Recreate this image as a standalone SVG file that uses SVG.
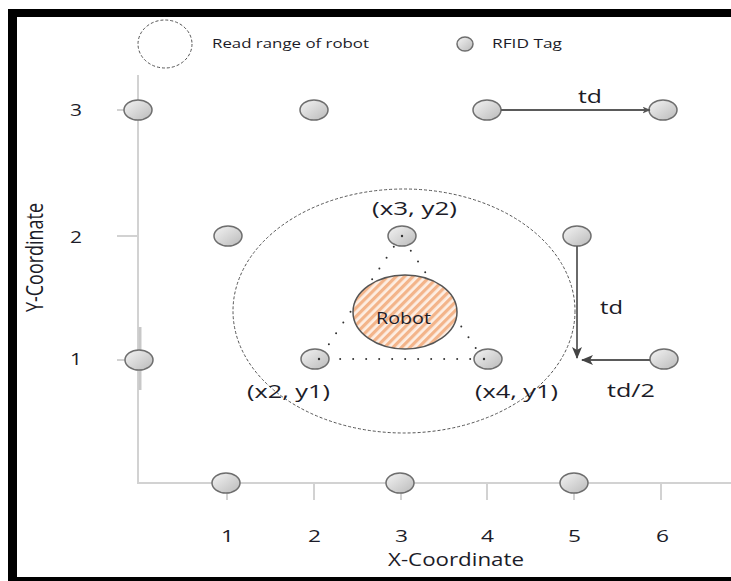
<svg xmlns="http://www.w3.org/2000/svg" width="731" height="581" viewBox="0 0 731 581">
  <style>
    .txt { font-family: "Open Sans", Lato, "Liberation Sans", sans-serif; font-weight: 500; fill: #1c1c28; }
    .axis { stroke: #d2d2d2; stroke-width: 2; fill: none; }
    .tag { fill: url(#tagFill); stroke: #6e6e6e; stroke-width: 1.5; }
    .range { fill: none; stroke: #555; stroke-width: 1; stroke-dasharray: 3 2; }
    .arrow { stroke: #5a5a5a; stroke-width: 1.8; fill: none; }
    .tri { stroke: #333; stroke-width: 2; stroke-linecap: round; fill: none; }
  </style>
  <defs>
    <linearGradient id="tagFill" x1="0" y1="0" x2="1" y2="1">
      <stop offset="0" stop-color="#f4f4f4"/>
      <stop offset="1" stop-color="#bababa"/>
    </linearGradient>
    <pattern id="hatch" patternUnits="userSpaceOnUse" width="6" height="6" patternTransform="rotate(45)">
      <rect width="6" height="6" fill="#fdeee3"/>
      <rect width="3.2" height="6" fill="#f3b48a"/>
    </pattern>
    <marker id="head" viewBox="0 0 12 10" refX="11" refY="5" markerWidth="12" markerHeight="10" markerUnits="userSpaceOnUse" orient="auto">
      <path d="M0,0 L12,5 L0,10 L3,5 z" fill="#444"/>
    </marker>
    <marker id="headSmall" viewBox="0 0 12 10" refX="11" refY="5" markerWidth="8" markerHeight="7" markerUnits="userSpaceOnUse" orient="auto">
      <path d="M0,0 L12,5 L0,10 L3,5 z" fill="#555"/>
    </marker>
  </defs>

  <rect width="731" height="581" fill="#fff"/>
  <!-- frame -->
  <rect x="8" y="9" width="723" height="8" fill="#000"/>
  <rect x="8" y="9" width="9" height="572" fill="#000"/>
  <rect x="8" y="577" width="723" height="4" fill="#000"/>

  <!-- legend -->
  <g id="legend">
    <ellipse class="range" cx="165" cy="44" rx="27" ry="24"/>
    <text class="txt" x="212" y="48" font-size="13" textLength="157" lengthAdjust="spacingAndGlyphs">Read range of robot</text>
    <ellipse class="tag" cx="465" cy="44" rx="8" ry="7"/>
    <text class="txt" x="492" y="48" font-size="13" textLength="70" lengthAdjust="spacingAndGlyphs">RFID Tag</text>
  </g>

  <!-- axes -->
  <g id="axes">
    <path class="axis" d="M138,75 V483 H731"/>
    <path d="M140,327 V390" stroke="#c8c8c8" stroke-width="3"/>
    <path class="axis" d="M117,110 H138 M117,236 H138 M117,360 H138"/>
    <path class="axis" d="M227,483 V500 M314,483 V500 M401,483 V500 M487,483 V500 M574,483 V500 M661,483 V500"/>
    <g class="txt" font-size="17">
      <text x="70" y="116" textLength="12" lengthAdjust="spacingAndGlyphs">3</text>
      <text x="70" y="243" textLength="12" lengthAdjust="spacingAndGlyphs">2</text>
      <text x="70" y="365" textLength="12" lengthAdjust="spacingAndGlyphs">1</text>
      <text x="221" y="542" textLength="13" lengthAdjust="spacingAndGlyphs">1</text>
      <text x="308" y="542" textLength="13" lengthAdjust="spacingAndGlyphs">2</text>
      <text x="395" y="542" textLength="13" lengthAdjust="spacingAndGlyphs">3</text>
      <text x="481" y="542" textLength="13" lengthAdjust="spacingAndGlyphs">4</text>
      <text x="568" y="542" textLength="13" lengthAdjust="spacingAndGlyphs">5</text>
      <text x="656" y="542" textLength="13" lengthAdjust="spacingAndGlyphs">6</text>
      <text x="388" y="566" font-size="18" textLength="136" lengthAdjust="spacingAndGlyphs">X-Coordinate</text>
      <text transform="translate(43,312) scale(1.35,1) rotate(-90)" font-size="17" textLength="109" lengthAdjust="spacingAndGlyphs">Y-Coordinate</text>
    </g>
  </g>

  <!-- read range of robot -->
  <ellipse id="read-range" class="range" cx="404" cy="311" rx="171" ry="122"/>

  <!-- triangulation lines -->
  <g id="triangle">
    <path class="tri" d="M401,236 L319,359 L483,359 Z" stroke-dasharray="0 13"/>
  </g>

  <!-- RFID tags -->
  <g id="tags">
    <g id="tag-0-3"><ellipse class="tag" cx="138" cy="110" rx="14" ry="10"/></g>
    <g id="tag-2-3"><ellipse class="tag" cx="314" cy="110" rx="14" ry="10"/></g>
    <g id="tag-4-3"><ellipse class="tag" cx="487" cy="110" rx="14" ry="10"/></g>
    <g id="tag-6-3"><ellipse class="tag" cx="663" cy="110" rx="14" ry="10"/></g>
    <g id="tag-1-2"><ellipse class="tag" cx="228" cy="236" rx="14" ry="10"/></g>
    <g id="tag-3-2"><ellipse class="tag" cx="402" cy="236" rx="14" ry="10"/><circle cx="402" cy="236" r="1.2" fill="#333"/></g>
    <g id="tag-5-2"><ellipse class="tag" cx="577" cy="236" rx="14" ry="10"/></g>
    <g id="tag-0-1"><ellipse class="tag" cx="139" cy="360" rx="14" ry="10"/></g>
    <g id="tag-2-1"><ellipse class="tag" cx="315" cy="359" rx="14" ry="10"/><circle cx="319" cy="359" r="1.2" fill="#333"/></g>
    <g id="tag-4-1"><ellipse class="tag" cx="488" cy="359" rx="14" ry="10"/><circle cx="484" cy="359" r="1.2" fill="#333"/></g>
    <g id="tag-6-1"><ellipse class="tag" cx="664" cy="359" rx="14" ry="10"/></g>
    <g id="tag-1-0"><ellipse class="tag" cx="226" cy="483" rx="14" ry="10"/></g>
    <g id="tag-3-0"><ellipse class="tag" cx="400" cy="483" rx="14" ry="10"/></g>
    <g id="tag-5-0"><ellipse class="tag" cx="574" cy="483" rx="14" ry="10"/></g>
  </g>

  <!-- robot -->
  <g id="robot">
    <ellipse cx="405" cy="312" rx="52" ry="37" fill="url(#hatch)" stroke="#555" stroke-width="1.5"/>
    <text class="txt" x="376" y="324" font-size="16" textLength="55" lengthAdjust="spacingAndGlyphs" fill="#333">Robot</text>
  </g>

  <!-- connectors -->
  <g id="connectors">
    <path class="arrow" d="M501,110 H650" marker-end="url(#headSmall)"/>
    <path class="arrow" d="M577,246 V358" marker-end="url(#head)"/>
    <path class="arrow" d="M650,360 H582" marker-end="url(#head)"/>
  </g>

  <!-- labels -->
  <g class="txt" font-size="18">
    <text x="372" y="215" textLength="85" lengthAdjust="spacingAndGlyphs">(x3, y2)</text>
    <text x="247" y="398" textLength="83" lengthAdjust="spacingAndGlyphs">(x2, y1)</text>
    <text x="475" y="398" textLength="83" lengthAdjust="spacingAndGlyphs">(x4, y1)</text>
    <text x="578" y="103" textLength="24" lengthAdjust="spacingAndGlyphs">td</text>
    <text x="600" y="314" textLength="23" lengthAdjust="spacingAndGlyphs">td</text>
    <text x="607" y="397" textLength="48" lengthAdjust="spacingAndGlyphs">td/2</text>
  </g>
</svg>
